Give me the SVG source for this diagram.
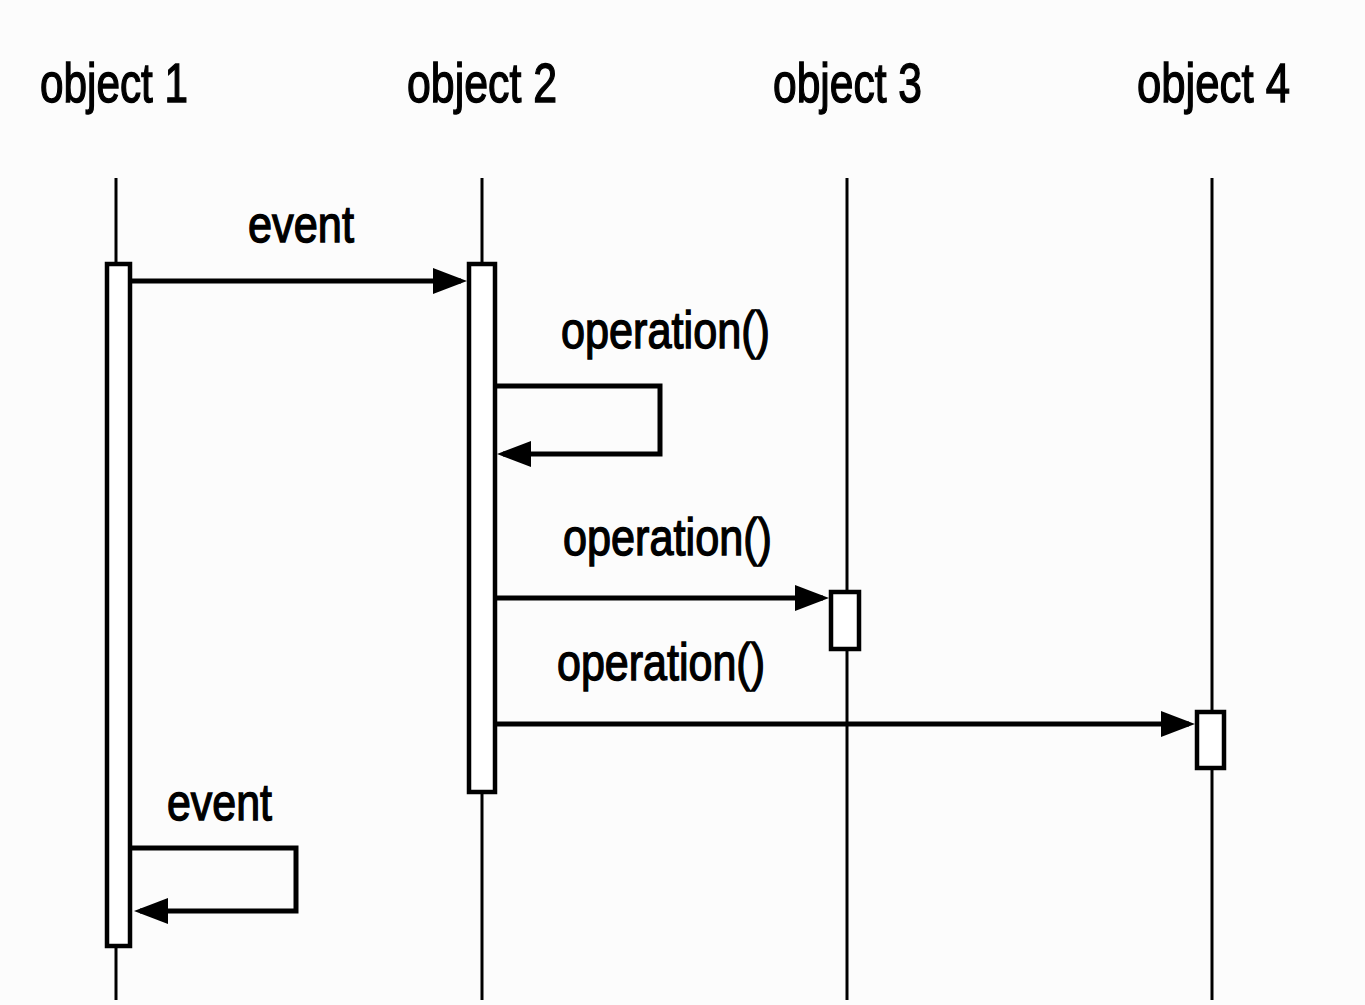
<svg xmlns="http://www.w3.org/2000/svg" width="1365" height="1005" viewBox="0 0 1365 1005">
  <style>
    .label { font-family: "Liberation Sans", Arial, sans-serif; fill: #000; stroke: #000; stroke-width: 1.4; }
    .obj { font-size: 56px; }
    .msg { font-size: 52px; }
    .lifeline { stroke: #000; stroke-width: 3; fill: none; }
    .bar { fill: #fff; stroke: #000; stroke-width: 4.5; }
    .msgline { stroke: #000; stroke-width: 5; fill: none; }
  </style>
  <defs>
    <marker id="head" viewBox="0 0 34 26" refX="28" refY="13" markerWidth="34" markerHeight="26" markerUnits="userSpaceOnUse" orient="auto">
      <path d="M0,0 L34,13 L0,26 Z" fill="#000"/>
    </marker>
  </defs>
  <rect x="0" y="0" width="1365" height="1005" fill="#fcfcfc"/>

  <!-- object 1 -->
  <g id="object1">
    <text class="label obj" x="40" y="102" textLength="148" lengthAdjust="spacingAndGlyphs">object 1</text>
    <line class="lifeline" x1="116" y1="178" x2="116" y2="1000"/>
    <rect class="bar" x="107" y="264" width="23" height="682"/>
  </g>

  <!-- object 2 -->
  <g id="object2">
    <text class="label obj" x="407" y="102" textLength="150" lengthAdjust="spacingAndGlyphs">object 2</text>
    <line class="lifeline" x1="482" y1="178" x2="482" y2="1000"/>
    <rect class="bar" x="469" y="264" width="26" height="528"/>
  </g>

  <!-- object 3 -->
  <g id="object3">
    <text class="label obj" x="773" y="102" textLength="149" lengthAdjust="spacingAndGlyphs">object 3</text>
    <line class="lifeline" x1="847" y1="178" x2="847" y2="1000"/>
    <rect class="bar" x="831" y="592" width="28" height="57"/>
  </g>

  <!-- object 4 -->
  <g id="object4">
    <text class="label obj" x="1137" y="102" textLength="153" lengthAdjust="spacingAndGlyphs">object 4</text>
    <line class="lifeline" x1="1212" y1="178" x2="1212" y2="1000"/>
    <rect class="bar" x="1197" y="712" width="27" height="56"/>
  </g>

  <!-- messages -->
  <g id="connectors">
    <path class="msgline" d="M132,281 H461" marker-end="url(#head)"/>
    <path class="msgline" d="M497,386 H660 V454 H503" marker-end="url(#head)"/>
    <path class="msgline" d="M497,598 H823" marker-end="url(#head)"/>
    <path class="msgline" d="M497,724 H1189" marker-end="url(#head)"/>
    <path class="msgline" d="M132,848 H296 V911 H140" marker-end="url(#head)"/>
  </g>

  <g id="message-labels">
    <text class="label msg" x="248" y="242" textLength="106" lengthAdjust="spacingAndGlyphs">event</text>
    <text class="label msg" x="561" y="348" textLength="209" lengthAdjust="spacingAndGlyphs">operation()</text>
    <text class="label msg" x="563" y="555" textLength="209" lengthAdjust="spacingAndGlyphs">operation()</text>
    <text class="label msg" x="557" y="680" textLength="208" lengthAdjust="spacingAndGlyphs">operation()</text>
    <text class="label msg" x="167" y="820" textLength="105" lengthAdjust="spacingAndGlyphs">event</text>
  </g>
</svg>
